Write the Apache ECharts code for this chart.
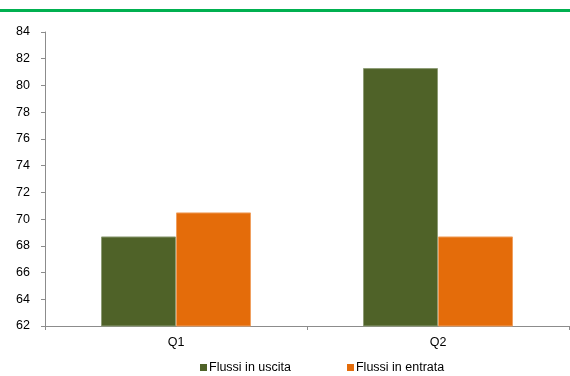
<!DOCTYPE html>
<html>
<head>
<meta charset="utf-8">
<script src="https://cdn.jsdelivr.net/npm/echarts@6/dist/echarts.min.js"></script>
<style>
  html, body { margin: 0; padding: 0; background: #fff; }
  #chart { width: 570px; height: 376px; }
</style>
</head>
<body>
<div id="chart"></div>
<script>
// Quarterly flows
const categories = ['Q1', 'Q2'];
const flussiUscita = [68.7, 81.3];
const flussiEntrata = [70.5, 68.7];
const yTicks = { min: 62, max: 84, interval: 2 };

const font = '"Liberation Sans", Arial, sans-serif';
const axisGrey = '#8c8c8c';

const chart = echarts.init(document.getElementById('chart'), null, { renderer: 'canvas' });

chart.setOption({
  animation: false,
  textStyle: { fontFamily: font },
  graphic: [{
    type: 'rect',
    shape: { x: 0, y: 9, width: 570, height: 3 },
    style: { fill: '#00b050' },
    silent: true
  }],
  grid: { left: 45, right: 1, top: 32, bottom: 50, containLabel: false },
  legend: {
    left: 200,
    top: 361,
    padding: 0,
    itemWidth: 7,
    itemHeight: 7,
    itemGap: 56,
    icon: 'rect',
    itemStyle: { borderWidth: 0 },
    textStyle: { fontFamily: font, fontSize: 12.5, color: '#000', padding: [0, 0, 0, -3] },
    data: ['Flussi in uscita', 'Flussi in entrata']
  },
  xAxis: {
    type: 'category',
    data: categories,
    boundaryGap: true,
    axisLine: { lineStyle: { color: axisGrey, width: 1 } },
    axisTick: { show: true, length: 4, lineStyle: { color: axisGrey } },
    axisLabel: { color: '#000', fontSize: 12.5, fontFamily: font, margin: 10 }
  },
  yAxis: {
    type: 'value',
    min: yTicks.min,
    max: yTicks.max,
    interval: yTicks.interval,
    axisLine: { show: true, lineStyle: { color: axisGrey, width: 1 } },
    axisTick: { show: true, length: 4, lineStyle: { color: axisGrey } },
    splitLine: { show: false },
    axisLabel: { color: '#000', fontSize: 12.5, fontFamily: font, margin: 15 }
  },
  series: [
    {
      name: 'Flussi in uscita',
      type: 'bar',
      data: flussiUscita,
      barWidth: 75,
      barGap: '0%',
      itemStyle: { color: '#4f6228', borderColor: '#8e9c76', borderWidth: 1 }
    },
    {
      name: 'Flussi in entrata',
      type: 'bar',
      data: flussiEntrata,
      barWidth: 75,
      barGap: '0%',
      itemStyle: { color: '#e46c0a', borderColor: '#f0a060', borderWidth: 1 }
    }
  ]
});
</script>
</body>
</html>
